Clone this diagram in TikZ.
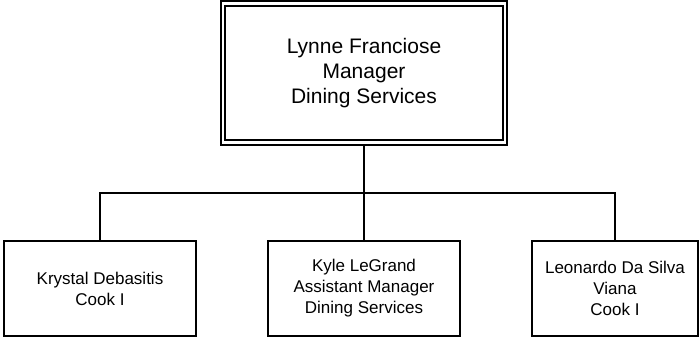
\documentclass[tikz,border=0pt]{standalone}
\usepackage{fontspec}
\setmainfont{Liberation Sans}
\usetikzlibrary{positioning, backgrounds}
\definecolor{orgline}{RGB}{0,0,0}
\tikzset{
  headbox/.style  = {draw=orgline, line width=2pt, double=white, double distance=2.2pt,
                     minimum width=282pt, minimum height=139pt, align=center,
                     inner sep=0pt, outer sep=0pt,
                     font=\fontsize{21pt}{25pt}\selectfont},
  staffbox/.style = {draw=orgline, line width=2pt, fill=white,
                     minimum width=192pt, minimum height=95pt, align=center,
                     inner sep=0pt, outer sep=0pt,
                     font=\fontsize{17pt}{21pt}\selectfont},
  link/.style     = {draw=orgline, line width=2pt},
}

\begin{document}
\begin{tikzpicture}[x=1pt, y=-1pt]
  \useasboundingbox (0,0) rectangle (699,340);
  \node[headbox] (mgr) at (364,73) {Lynne Franciose\\Manager\\Dining Services};
  \coordinate (bus) at (364,193);
  \node[staffbox] (cook1) at (100,288.5) {Krystal Debasitis\\Cook I};
  \node[staffbox] (asst) at (364,288.5) {Kyle LeGrand\\Assistant Manager\\Dining Services};
  \node[staffbox, minimum width=166pt] (cook2) at (615,288.5) {Leonardo Da Silva\\Viana\\Cook I};
  \begin{scope}[on background layer]
    \draw[link] (mgr.south) -- (bus);
    \draw[link] (cook1.north) |- (bus) -| (cook2.north);
    \draw[link] (bus) -- (asst.north);
  \end{scope}
\end{tikzpicture}
\end{document}
